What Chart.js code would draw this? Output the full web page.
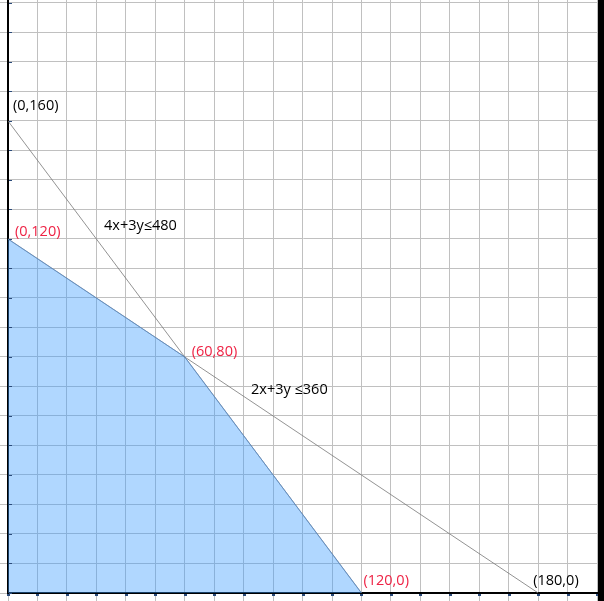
<!DOCTYPE html>
<html>
<head>
<meta charset="utf-8">
<script src="https://cdn.jsdelivr.net/npm/chart.js@4.4.0/dist/chart.umd.min.js"></script>
<style>
html, body { margin: 0; padding: 0; background: #000; overflow: hidden; }
#wrap { position: relative; width: 598px; height: 601px; background: #fff; }
</style>
</head>
<body>
<div id="wrap"><canvas id="lp"></canvas></div>
<script>
// feasible region corners (x, y)
var regionX = [0, 60, 120];
var regionY = [120, 80, 0];
// constraint 4x+3y<=480
var line1X = [0, 120];
var line1Y = [160, 0];
// constraint 2x+3y<=360
var line2X = [0, 180];
var line2Y = [120, 0];
// vertex labels
var vertexX = [0, 0, 60, 120, 180];
var vertexY = [160, 120, 80, 0, 0];
var vertexText = ['(0,160)', '(0,120)', '(60,80)', '(120,0)', '(180,0)'];
var vertexRed = [false, true, true, true, false];
// constraint labels, placed in data units
var eqText = ['4x+3y\u2264480', '2x+3y \u2264360'];
var eqX = [32.6, 82.5];
var eqY = [124.3, 69];

function pts(xs, ys) {
    return xs.map(function (x, i) { return { x: x, y: ys[i] }; });
}

var labelPlugin = {
    id: 'labels',
    afterDatasetsDraw: function (chart) {
        var c = chart.ctx, sx = chart.scales.x, sy = chart.scales.y;
        c.save();
        // tiny tick marks along the axes
        c.fillStyle = '#2a4a7a';
        sy.ticks.forEach(function (t) {
            c.fillRect(sx.getPixelForValue(0) + 1, Math.round(sy.getPixelForValue(t.value)), 3, 1);
        });
        sx.ticks.forEach(function (t) {
            c.fillRect(Math.round(sx.getPixelForValue(t.value)) - 1, sy.getPixelForValue(0) + 1, 3, 2);
        });
        c.font = '14.5px "Open Sans"';
        c.textBaseline = 'middle';
        c.textAlign = 'left';
        var offs = [[5, -15], [7, -7], [7, -5], [2, -12], [-5, -12]];
        vertexText.forEach(function (t, i) {
            c.fillStyle = vertexRed[i] ? '#ee2244' : '#000';
            c.fillText(t, sx.getPixelForValue(vertexX[i]) + offs[i][0], sy.getPixelForValue(vertexY[i]) + offs[i][1]);
        });
        c.fillStyle = '#000';
        eqText.forEach(function (t, i) {
            c.fillText(t, sx.getPixelForValue(eqX[i]), sy.getPixelForValue(eqY[i]));
        });
        c.restore();
    }
};

var ctx = document.getElementById('lp').getContext('2d');
var myChart = new Chart(ctx, {
    type: 'scatter',
    data: {
        datasets: [{
            data: pts(regionX, regionY),
            showLine: true,
            fill: 'origin',
            backgroundColor: 'rgba(58, 155, 255, 0.4)',
            borderColor: 'rgba(90, 140, 200, 0.7)',
            borderWidth: 1,
            pointRadius: 0,
            tension: 0
        }, {
            data: pts(line1X, line1Y),
            showLine: true,
            borderColor: 'rgba(120, 120, 120, 0.8)',
            borderWidth: 1,
            pointRadius: 0
        }, {
            data: pts(line2X, line2Y),
            showLine: true,
            borderColor: 'rgba(120, 120, 120, 0.8)',
            borderWidth: 1,
            pointRadius: 0
        }]
    },
    options: {
        responsive: true,
        maintainAspectRatio: false,
        animation: false,
        events: [],
        layout: { padding: 0 },
        plugins: { legend: { display: false }, tooltip: { enabled: false } },
        scales: {
            x: {
                type: 'linear',
                min: 0,
                max: 200.3,
                ticks: { display: false, stepSize: 10, includeBounds: false },
                grid: { color: '#c0c0c0', lineWidth: 1, tickLength: 8 },
                border: { color: '#000', width: 2 }
            },
            y: {
                type: 'linear',
                min: 0,
                max: 201,
                ticks: { display: false, stepSize: 10, includeBounds: false },
                grid: { color: '#c0c0c0', lineWidth: 1, tickLength: 8 },
                border: { color: '#000', width: 2 }
            }
        }
    },
    plugins: [labelPlugin]
});
</script>
</body>
</html>
